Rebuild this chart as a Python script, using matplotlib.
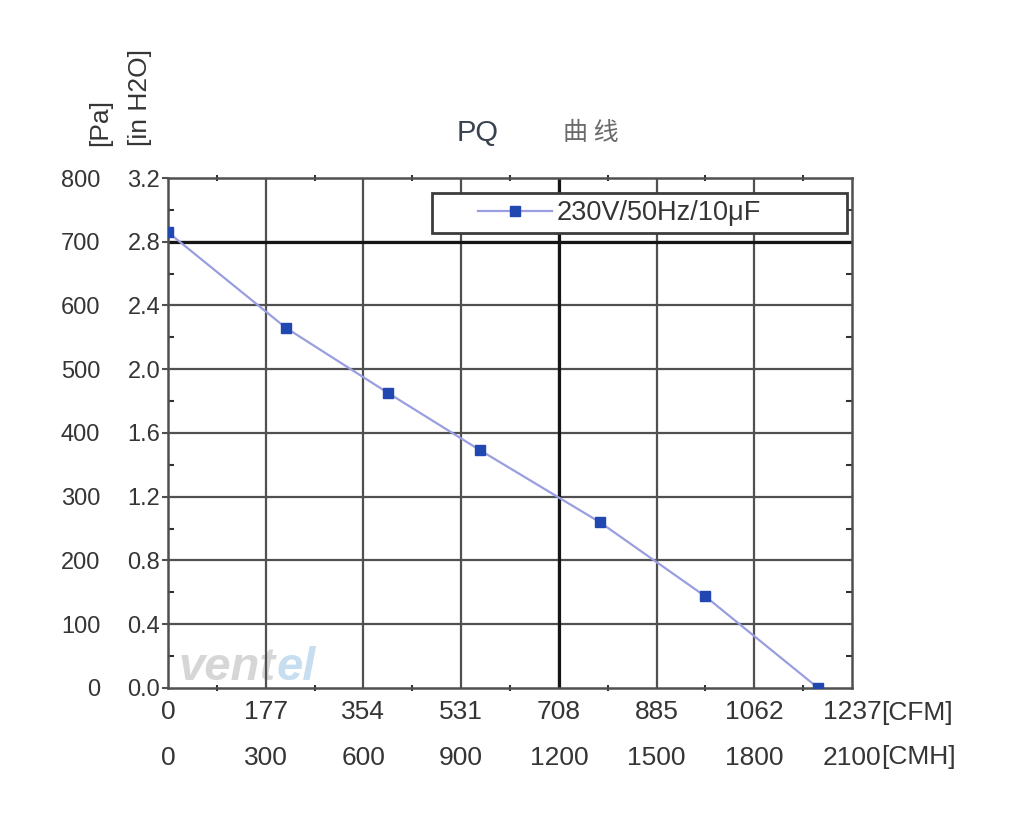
import matplotlib
matplotlib.use("Agg")
import matplotlib.pyplot as plt
from matplotlib.patches import Rectangle
from matplotlib.ticker import MultipleLocator

plt.rcParams["font.family"] = ["Liberation Sans", "DejaVu Sans", "Noto Sans CJK SC"]

# measured PQ points (airflow in CMH, static pressure in Pa)
FLOW_CMH = [0, 362, 675, 958, 1326, 1649, 1996]
PRESSURE_PA = [715, 565, 463, 373, 260, 144, 0]
SERIES_LABEL = "230V/50Hz/10μF"

CMH_TICKS = [0, 300, 600, 900, 1200, 1500, 1800, 2100]
CFM_LABELS = ["0", "177", "354", "531", "708", "885", "1062", "1237"]
CMH_LABELS = ["0", "300", "600", "900", "1200", "1500", "1800", "2100"]
PA_TICKS = [0, 100, 200, 300, 400, 500, 600, 700, 800]
INH2O_LABELS = ["0.0", "0.4", "0.8", "1.2", "1.6", "2.0", "2.4", "2.8", "3.2"]
PA_LABELS = ["0", "100", "200", "300", "400", "500", "600", "700", "800"]

TEXT = "#353535"
GRID = "#505050"

fig = plt.figure(figsize=(10.26, 8.31), dpi=100)
ax = fig.add_axes([0.1637, 0.1721, 0.6667, 0.6137])
ax.patch.set_alpha(0)

ax.set_xlim(0, 2100)
ax.set_ylim(0, 800)

# grid
for x in CMH_TICKS[1:-1]:
    ax.axvline(x, color=GRID, lw=1.6, zorder=1)
for y in PA_TICKS[1:-1]:
    ax.axhline(y, color=GRID, lw=1.6, zorder=1)
ax.axvline(1200, color="#151515", lw=2.3, zorder=1.5)
ax.axhline(700, color="#151515", lw=2.3, zorder=1.5)

for s in ax.spines.values():
    s.set_color(GRID)
    s.set_linewidth(1.8)

# x axis: CFM labels on primary, CMH on a second row
ax.set_xticks(CMH_TICKS, labels=CFM_LABELS)
ax.xaxis.set_minor_locator(MultipleLocator(150))
ax.tick_params(axis="x", which="major", length=0, pad=9, labelsize=19, labelcolor=TEXT)
ax.tick_params(axis="x", which="minor", direction="inout", length=5, width=1.5,
               color="#333333", top=True)

sec_x = ax.secondary_xaxis(-0.114)
sec_x.set_xticks(CMH_TICKS, labels=CMH_LABELS)
sec_x.tick_params(length=0, pad=0, labelsize=19, labelcolor=TEXT)
sec_x.spines["bottom"].set_visible(False)

# y axis: in H2O labels next to axis, Pa further left
ax.set_yticks(PA_TICKS, labels=INH2O_LABELS)
ax.yaxis.set_minor_locator(MultipleLocator(50))
ax.tick_params(axis="y", which="major", direction="out", length=4, width=1.5,
               pad=1.5, labelsize=17, labelcolor=TEXT, color=GRID)
ax.tick_params(axis="y", which="minor", direction="in", length=4, width=1.5,
               color="#333333", right=True)

sec_y = ax.secondary_yaxis(-0.099)
sec_y.set_yticks(PA_TICKS, labels=PA_LABELS)
sec_y.tick_params(length=0, pad=0, labelsize=17, labelcolor=TEXT)
sec_y.spines["left"].set_visible(False)

# data
ax.plot(FLOW_CMH, PRESSURE_PA, color="#9a9ee0", lw=1.6, marker="s", markersize=7.5,
        markerfacecolor="#2147b0", markeredgecolor="#2147b0", label=SERIES_LABEL, zorder=4)

# legend box
ax.add_patch(Rectangle((0.386, 0.892), 0.607, 0.078, transform=ax.transAxes,
                       facecolor="white", edgecolor="#3c3c3c", lw=2, zorder=5))
leg = ax.legend(loc="center left", bbox_to_anchor=(0.453, 0.931), frameon=False,
                borderpad=0, borderaxespad=0, handlelength=2.75, handletextpad=0.15,
                fontsize=19.5, labelcolor=TEXT)
leg.set_zorder(6)

# titles and axis unit labels
fig.text(478 / 1026, 1 - 133 / 831, "PQ", fontsize=21, color="#3a4250", ha="center", va="center")
fig.text(591 / 1026, 1 - 133 / 831, "曲 线", fontsize=18, color="#6a6a6a", ha="center", va="center",
         family=["Noto Sans CJK SC", "DejaVu Sans"])
fig.text(100 / 1026, 1 - 146 / 831, "[Pa]", rotation=90, fontsize=19, color=TEXT, ha="center", va="bottom")
fig.text(140 / 1026, 1 - 146 / 831, "[in H2O]", rotation=90, fontsize=19, color=TEXT, ha="center", va="bottom")
fig.text(881 / 1026, 1 - 713 / 831, "[CFM]", fontsize=19, color=TEXT, ha="left", va="center")
fig.text(881 / 1026, 1 - 757 / 831, "[CMH]", fontsize=19, color=TEXT, ha="left", va="center")

# faint watermark behind the grid, just above the x axis
wm1 = fig.text(178 / 1026, 1 - 668 / 831, "vent", fontsize=34, fontweight="bold", style="italic",
               color="#d6d6d6", ha="left", va="center", zorder=-1)
fig.canvas.draw()
bb = wm1.get_window_extent()
fig.text(bb.x1 / 1026 + 0.001, 1 - 668 / 831, "el", fontsize=34, fontweight="bold", style="italic",
         color="#c6def0", ha="left", va="center", zorder=-1)

fig.savefig("out.png", dpi=100, facecolor="white")
